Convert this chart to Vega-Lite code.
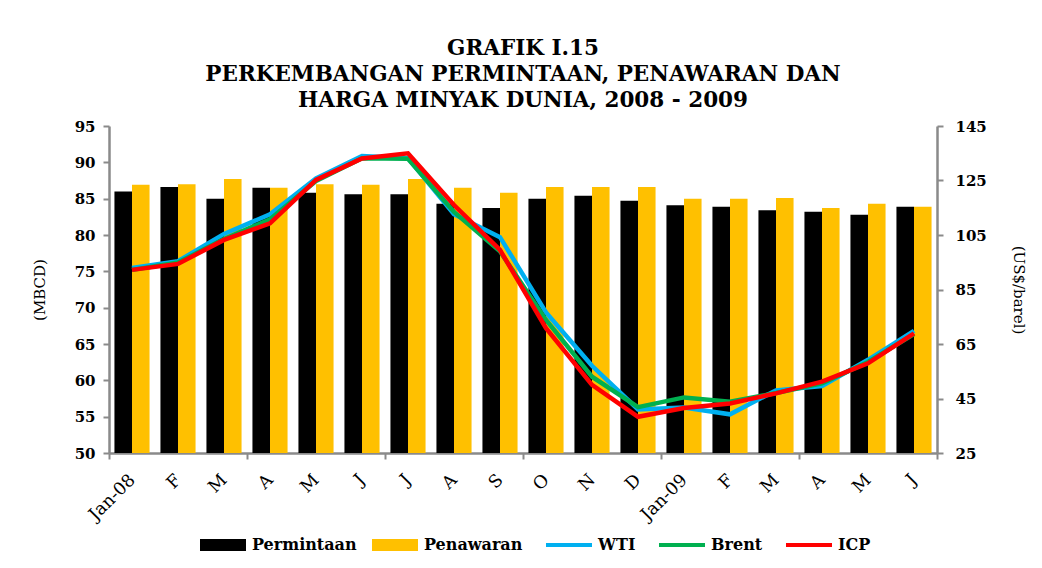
{
  "$schema": "https://vega.github.io/schema/vega-lite/v6.json",
  "width": 828,
  "height": 327,
  "autosize": {"type": "none"},
  "padding": {"left": 109, "top": 126, "right": 105, "bottom": 115},
  "background": "white",
  "title": {
    "text": ["GRAFIK I.15", "PERKEMBANGAN PERMINTAAN, PENAWARAN DAN", "HARGA MINYAK DUNIA, 2008 - 2009"],
    "font": "DejaVu Serif", "fontSize": 21.5, "fontWeight": "bold", "lineHeight": 26,
    "offset": 8, "anchor": "middle", "color": "#000000"
  },
  "datasets": {
    "bars": [
      {"month": "Jan-08", "series": "Permintaan", "value": 86.0},
      {"month": "Feb-08", "series": "Permintaan", "value": 86.6},
      {"month": "Mar-08", "series": "Permintaan", "value": 85.0},
      {"month": "Apr-08", "series": "Permintaan", "value": 86.5},
      {"month": "May-08", "series": "Permintaan", "value": 85.8},
      {"month": "Jun-08", "series": "Permintaan", "value": 85.6},
      {"month": "Jul-08", "series": "Permintaan", "value": 85.6},
      {"month": "Aug-08", "series": "Permintaan", "value": 84.3},
      {"month": "Sep-08", "series": "Permintaan", "value": 83.7},
      {"month": "Oct-08", "series": "Permintaan", "value": 85.0},
      {"month": "Nov-08", "series": "Permintaan", "value": 85.4},
      {"month": "Dec-08", "series": "Permintaan", "value": 84.7},
      {"month": "Jan-09", "series": "Permintaan", "value": 84.1},
      {"month": "Feb-09", "series": "Permintaan", "value": 83.9},
      {"month": "Mar-09", "series": "Permintaan", "value": 83.4},
      {"month": "Apr-09", "series": "Permintaan", "value": 83.2},
      {"month": "May-09", "series": "Permintaan", "value": 82.8},
      {"month": "Jun-09", "series": "Permintaan", "value": 83.9},
      {"month": "Jan-08", "series": "Penawaran", "value": 86.9},
      {"month": "Feb-08", "series": "Penawaran", "value": 87.0},
      {"month": "Mar-08", "series": "Penawaran", "value": 87.7},
      {"month": "Apr-08", "series": "Penawaran", "value": 86.5},
      {"month": "May-08", "series": "Penawaran", "value": 87.0},
      {"month": "Jun-08", "series": "Penawaran", "value": 86.9},
      {"month": "Jul-08", "series": "Penawaran", "value": 87.7},
      {"month": "Aug-08", "series": "Penawaran", "value": 86.5},
      {"month": "Sep-08", "series": "Penawaran", "value": 85.8},
      {"month": "Oct-08", "series": "Penawaran", "value": 86.6},
      {"month": "Nov-08", "series": "Penawaran", "value": 86.6},
      {"month": "Dec-08", "series": "Penawaran", "value": 86.6},
      {"month": "Jan-09", "series": "Penawaran", "value": 85.0},
      {"month": "Feb-09", "series": "Penawaran", "value": 85.0},
      {"month": "Mar-09", "series": "Penawaran", "value": 85.1},
      {"month": "Apr-09", "series": "Penawaran", "value": 83.7},
      {"month": "May-09", "series": "Penawaran", "value": 84.3},
      {"month": "Jun-09", "series": "Penawaran", "value": 83.9}
    ],
    "prices": [
      {"month": "Jan-08", "series": "WTI", "value": 92.9},
      {"month": "Feb-08", "series": "WTI", "value": 95.4},
      {"month": "Mar-08", "series": "WTI", "value": 105.4},
      {"month": "Apr-08", "series": "WTI", "value": 112.6},
      {"month": "May-08", "series": "WTI", "value": 125.8},
      {"month": "Jun-08", "series": "WTI", "value": 134.0},
      {"month": "Jul-08", "series": "WTI", "value": 133.2},
      {"month": "Aug-08", "series": "WTI", "value": 112.6},
      {"month": "Sep-08", "series": "WTI", "value": 104.2},
      {"month": "Oct-08", "series": "WTI", "value": 76.6},
      {"month": "Nov-08", "series": "WTI", "value": 57.0},
      {"month": "Dec-08", "series": "WTI", "value": 41.0},
      {"month": "Jan-09", "series": "WTI", "value": 41.7},
      {"month": "Feb-09", "series": "WTI", "value": 39.2},
      {"month": "Mar-09", "series": "WTI", "value": 48.0},
      {"month": "Apr-09", "series": "WTI", "value": 49.6},
      {"month": "May-09", "series": "WTI", "value": 59.2},
      {"month": "Jun-09", "series": "WTI", "value": 69.8},
      {"month": "Jan-08", "series": "Brent", "value": 92.2},
      {"month": "Feb-08", "series": "Brent", "value": 94.9},
      {"month": "Mar-08", "series": "Brent", "value": 103.5},
      {"month": "Apr-08", "series": "Brent", "value": 110.8},
      {"month": "May-08", "series": "Brent", "value": 124.8},
      {"month": "Jun-08", "series": "Brent", "value": 133.2},
      {"month": "Jul-08", "series": "Brent", "value": 133.0},
      {"month": "Aug-08", "series": "Brent", "value": 113.5},
      {"month": "Sep-08", "series": "Brent", "value": 99.0},
      {"month": "Oct-08", "series": "Brent", "value": 73.8},
      {"month": "Nov-08", "series": "Brent", "value": 53.0},
      {"month": "Dec-08", "series": "Brent", "value": 41.8},
      {"month": "Jan-09", "series": "Brent", "value": 45.4},
      {"month": "Feb-09", "series": "Brent", "value": 43.8},
      {"month": "Mar-09", "series": "Brent", "value": 47.0},
      {"month": "Apr-09", "series": "Brent", "value": 50.6},
      {"month": "May-09", "series": "Brent", "value": 58.4},
      {"month": "Jun-09", "series": "Brent", "value": 68.6},
      {"month": "Jan-08", "series": "ICP", "value": 92.2},
      {"month": "Feb-08", "series": "ICP", "value": 94.4},
      {"month": "Mar-08", "series": "ICP", "value": 103.2},
      {"month": "Apr-08", "series": "ICP", "value": 109.3},
      {"month": "May-08", "series": "ICP", "value": 125.2},
      {"month": "Jun-08", "series": "ICP", "value": 133.1},
      {"month": "Jul-08", "series": "ICP", "value": 135.0},
      {"month": "Aug-08", "series": "ICP", "value": 116.0},
      {"month": "Sep-08", "series": "ICP", "value": 99.5},
      {"month": "Oct-08", "series": "ICP", "value": 70.8},
      {"month": "Nov-08", "series": "ICP", "value": 50.0},
      {"month": "Dec-08", "series": "ICP", "value": 38.3},
      {"month": "Jan-09", "series": "ICP", "value": 41.5},
      {"month": "Feb-09", "series": "ICP", "value": 43.2},
      {"month": "Mar-09", "series": "ICP", "value": 46.9},
      {"month": "Apr-09", "series": "ICP", "value": 51.2},
      {"month": "May-09", "series": "ICP", "value": 57.9},
      {"month": "Jun-09", "series": "ICP", "value": 68.9}
    ]
  },
  "layer": [
    {
      "data": {"name": "bars"},
      "mark": {"type": "bar"},
      "encoding": {
        "x": {
          "field": "month", "type": "nominal",
          "sort": ["Jan-08","Feb-08","Mar-08","Apr-08","May-08","Jun-08","Jul-08","Aug-08","Sep-08","Oct-08","Nov-08","Dec-08","Jan-09","Feb-09","Mar-09","Apr-09","May-09","Jun-09"],
          "scale": {"paddingInner": 0, "paddingOuter": 0},
          "axis": {
            "orient": "bottom",
            "title": null, "labelAngle": -45, "labelAlign": "right", "labelBaseline": "middle",
            "labelExpr": "!isValid(datum.value) ? '' : ((datum.value == 'Jan-08' || datum.value == 'Jan-09') ? datum.value : substring(datum.value, 0, 1))",
            "ticks": true, "tickBand": "extent",
            "tickOpacity": {"condition": {"test": "!isValid(datum.value) || indexof(['Mar-08','Jun-08','Sep-08','Dec-08','Mar-09','Jun-09'], datum.value) >= 0", "value": 1}, "value": 0},
            "tickColor": "#8a8a8a", "tickWidth": 2, "tickSize": 6,
            "domainColor": "#8a8a8a", "domainWidth": 2.5,
            "labelFont": "DejaVu Serif", "labelFontWeight": "normal", "labelFontSize": 17.5,
            "labelPadding": 18, "labelColor": "#000000"
          }
        },
        "xOffset": {
          "field": "series", "type": "nominal", "sort": ["Permintaan", "Penawaran"],
          "scale": {"paddingInner": 0, "paddingOuter": 0.31}
        },
        "y": {
          "field": "value", "type": "quantitative",
          "scale": {"domain": [50, 95], "zero": false, "nice": false},
          "axis": {
            "title": "(MBCD)", "values": [50,55,60,65,70,75,80,85,90,95], "grid": false,
            "domainColor": "#8a8a8a", "domainWidth": 2.5, "tickColor": "#8a8a8a", "tickWidth": 2, "tickSize": 6,
            "labelFont": "DejaVu Serif", "labelFontWeight": "bold", "labelFontSize": 15, "labelPadding": 8, "labelColor": "#000000",
            "titleFont": "DejaVu Serif", "titleFontWeight": "normal", "titleFontSize": 15, "titlePadding": 27, "titleColor": "#000000"
          }
        },
        "y2": {"datum": 50},
        "color": {
          "field": "series", "type": "nominal",
          "scale": {
            "domain": ["Permintaan", "Penawaran", "WTI", "Brent", "ICP"],
            "range": ["#000000", "#FFC000", "#00B0F0", "#00B050", "#FF0000"]
          },
          "legend": {
            "title": null, "orient": "none", "legendX": 106, "legendY": 411,
            "direction": "horizontal", "columns": 5, "columnPadding": 15,
            "symbolSize": 2116, "labelFont": "DejaVu Serif", "labelFontWeight": "bold",
            "labelFontSize": 16, "labelOffset": 21, "labelColor": "#000000",
            "encode": {
              "symbols": {
                "update": {
                  "shape": {"signal": "(datum.value == 'Permintaan' || datum.value == 'Penawaran') ? 'M-1,-0.26H1V0.26H-1Z' : 'M-1,0H1'"},
                  "fill": {"signal": "datum.value == 'Permintaan' ? '#000000' : (datum.value == 'Penawaran' ? '#FFC000' : 'transparent')"},
                  "stroke": {"signal": "datum.value == 'WTI' ? '#00B0F0' : (datum.value == 'Brent' ? '#00B050' : (datum.value == 'ICP' ? '#FF0000' : 'transparent'))"},
                  "strokeWidth": {"signal": "(datum.value == 'Permintaan' || datum.value == 'Penawaran') ? 0 : 4"},
                  "opacity": {"value": 1}
                }
              }
            }
          }
        }
      }
    },
    {
      "data": {"name": "prices"},
      "mark": {"type": "line", "strokeWidth": 4.5},
      "encoding": {
        "x": {
          "field": "month", "type": "nominal",
          "sort": ["Jan-08","Feb-08","Mar-08","Apr-08","May-08","Jun-08","Jul-08","Aug-08","Sep-08","Oct-08","Nov-08","Dec-08","Jan-09","Feb-09","Mar-09","Apr-09","May-09","Jun-09"]
        },
        "y": {
          "field": "value", "type": "quantitative",
          "scale": {"domain": [25, 145], "zero": false, "nice": false},
          "axis": {
            "orient": "right", "title": "(US$/barel)", "titleAngle": 90,
            "values": [25,45,65,85,105,125,145], "grid": false,
            "domainColor": "#8a8a8a", "domainWidth": 2.5, "tickColor": "#8a8a8a", "tickWidth": 2, "tickSize": 6,
            "labelFont": "DejaVu Serif", "labelFontWeight": "bold", "labelFontSize": 15, "labelPadding": 12, "labelColor": "#000000",
            "titleFont": "DejaVu Serif", "titleFontWeight": "normal", "titleFontSize": 15, "titlePadding": 24, "titleColor": "#000000"
          }
        },
        "color": {"field": "series", "type": "nominal"}
      }
    }
  ],
  "resolve": {
    "scale": {"y": "independent"},
    "axis": {"y": "independent"}
  },
  "config": {
    "view": {"stroke": null},
    "axis": {"grid": false}
  }
}
